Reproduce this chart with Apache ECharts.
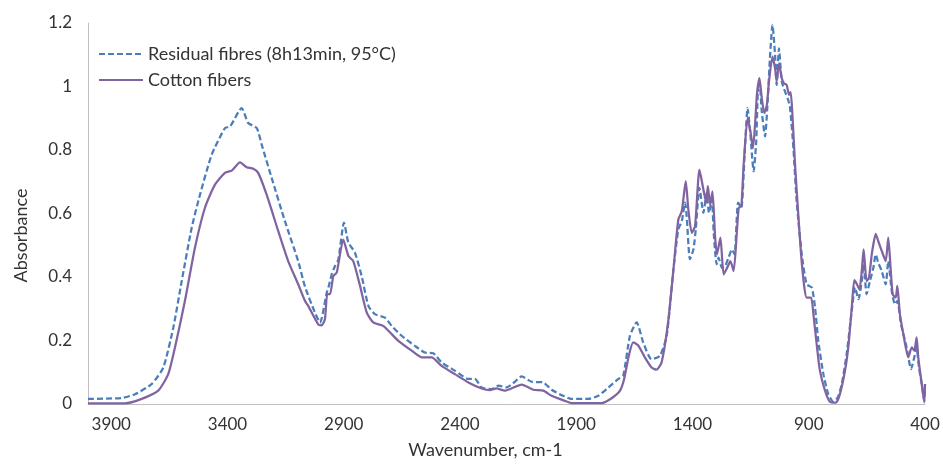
<!DOCTYPE html>
<html>
<head>
<meta charset="utf-8">
<script src="https://cdn.jsdelivr.net/npm/echarts@6/dist/echarts.min.js"></script>
<style>
html,body{margin:0;padding:0;background:#fff;}
#chart{width:943px;height:464px;}
</style>
</head>
<body>
<div id="chart"></div>
<script>
var seriesNames = ["Residual fibres (8h13min, 95°C)", "Cotton fibers"];
var xTickLabels = [3900, 3400, 2900, 2400, 1900, 1400, 900, 400];
var yTickLabels = [0, 0.2, 0.4, 0.6, 0.8, 1, 1.2];

var residualWn = [4000,3855,3798,3726,3676,3633,3597,3554,3518,3468,3411,3389,3339,3311,3274,3253,3210,3153,3096,3067,3024,3002,2973,2966,2952,2938,2923,2899,2880,2852,2823,2794,2766,2723,2694,2651,2594,2551,2515,2479,2422,2364,2336,2307,2264,2235,2199,2164,2135,2092,2042,2006,1963,1920,1848,1805,1762,1719,1698,1669,1640,1612,1576,1540,1511,1482,1461,1446,1432,1425,1411,1396,1386,1370,1353,1339,1329,1317,1308,1296,1288,1273,1259,1245,1230,1219,1204,1190,1176,1163,1151,1137,1126,1119,1112,1102,1088,1076,1067,1056,1045,1038,1028,1016,1002,991,981,966,952,930,909,887,873,859,837,816,794,775,758,737,715,701,686,672,664,651,637,622,612,601,586,569,558,543,529,519,503,479,460,446,436,426,414,403,400];
var residualAbs = [0.016,0.019,0.031,0.063,0.115,0.241,0.387,0.555,0.66,0.785,0.869,0.874,0.932,0.885,0.869,0.817,0.712,0.576,0.45,0.37,0.288,0.257,0.351,0.367,0.408,0.434,0.456,0.571,0.508,0.477,0.403,0.309,0.283,0.272,0.246,0.215,0.183,0.162,0.16,0.131,0.105,0.079,0.079,0.052,0.047,0.058,0.052,0.07,0.087,0.07,0.068,0.045,0.028,0.016,0.016,0.026,0.052,0.079,0.089,0.215,0.257,0.194,0.141,0.152,0.215,0.424,0.55,0.576,0.634,0.592,0.456,0.487,0.55,0.681,0.602,0.665,0.602,0.644,0.53,0.44,0.461,0.429,0.435,0.461,0.487,0.471,0.634,0.618,0.785,0.932,0.848,0.733,0.827,0.984,1.016,0.921,0.843,0.963,1.089,1.194,1.1,1.005,1.12,1.016,0.984,0.963,0.937,0.806,0.639,0.471,0.377,0.367,0.304,0.199,0.094,0.031,0.007,0.021,0.063,0.157,0.293,0.367,0.33,0.387,0.44,0.346,0.387,0.429,0.471,0.445,0.419,0.377,0.45,0.356,0.314,0.325,0.251,0.178,0.11,0.147,0.178,0.115,0.063,0.01,0.063];

var cottonWn = [4000,3841,3769,3698,3655,3626,3583,3540,3497,3454,3411,3382,3346,3318,3289,3268,3232,3182,3139,3096,3067,3053,3010,2995,2981,2971,2959,2945,2930,2902,2880,2859,2830,2801,2773,2730,2694,2665,2608,2565,2522,2479,2422,2364,2307,2271,2243,2207,2179,2135,2085,2042,2006,1949,1920,1791,1748,1712,1694,1674,1655,1634,1605,1576,1555,1533,1505,1482,1461,1446,1429,1418,1403,1389,1370,1353,1341,1334,1324,1314,1303,1295,1280,1266,1251,1237,1223,1208,1201,1190,1180,1163,1151,1140,1131,1123,1112,1102,1091,1080,1071,1056,1045,1038,1028,1016,1006,995,985,978,971,959,947,933,919,909,890,880,866,852,830,809,784,766,744,730,715,704,694,682,672,664,651,641,629,622,612,601,586,569,558,548,539,526,519,508,493,472,457,446,436,429,414,403,400];
var cottonAbs = [0.002,0.002,0.016,0.042,0.094,0.178,0.325,0.492,0.618,0.691,0.728,0.735,0.761,0.746,0.741,0.728,0.66,0.545,0.45,0.377,0.325,0.309,0.251,0.248,0.267,0.346,0.346,0.403,0.414,0.518,0.466,0.45,0.372,0.288,0.257,0.246,0.22,0.199,0.168,0.147,0.147,0.12,0.094,0.068,0.049,0.044,0.049,0.042,0.049,0.061,0.045,0.042,0.026,0.01,0.003,0.003,0.018,0.042,0.079,0.152,0.194,0.185,0.147,0.115,0.108,0.131,0.257,0.424,0.581,0.607,0.702,0.613,0.539,0.56,0.738,0.675,0.634,0.686,0.628,0.67,0.529,0.471,0.524,0.408,0.429,0.45,0.419,0.555,0.618,0.623,0.754,0.901,0.859,0.806,0.88,0.974,1.026,0.963,0.916,0.943,1.016,1.094,1.058,1.016,1.073,1.026,1.01,1.005,0.974,0.982,0.921,0.754,0.618,0.471,0.367,0.335,0.335,0.283,0.189,0.105,0.042,0.007,0.004,0.031,0.105,0.178,0.304,0.39,0.379,0.361,0.419,0.487,0.387,0.398,0.471,0.503,0.536,0.513,0.482,0.45,0.524,0.429,0.346,0.335,0.372,0.283,0.22,0.147,0.178,0.168,0.21,0.147,0.063,0.005,0.063];

function pairs(xs, ys) {
  var out = [];
  for (var i = 0; i < xs.length; i++) out.push([xs[i], ys[i]]);
  return out;
}

var FONT = 'Lato';
var TXT = '#333333';
var chart = echarts.init(document.getElementById('chart'), null, {renderer: 'canvas'});
chart.setOption({
  animation: false,
  backgroundColor: '#ffffff',
  textStyle: {fontFamily: FONT},
  grid: {left: 88, right: 18, top: 23, bottom: 59, containLabel: false},
  legend: {
    orient: 'vertical',
    left: 93,
    top: 40,
    itemWidth: 44,
    itemHeight: 14,
    itemGap: 8,
    itemStyle: {opacity: 0},
    textStyle: {fontFamily: FONT, fontSize: 18, color: TXT, lineHeight: 18},
    data: seriesNames
  },
  xAxis: {
    type: 'value',
    inverse: true,
    min: 400,
    max: 4000,
    interval: 500,
    name: 'Wavenumber, cm-1',
    nameLocation: 'middle',
    nameGap: 37,
    nameTextStyle: {fontFamily: FONT, fontSize: 18, color: TXT, padding: [0, 42, 0, 0]},
    axisLine: {show: true, lineStyle: {color: '#bfbfbf', width: 1}},
    axisTick: {show: false},
    splitLine: {show: false},
    axisLabel: {
      fontFamily: FONT, fontSize: 17, color: TXT, margin: 12,
      formatter: function (v) { return xTickLabels.indexOf(v) >= 0 ? String(v) : ''; }
    }
  },
  yAxis: {
    type: 'value',
    min: 0,
    max: 1.2,
    interval: 0.2,
    name: 'Absorbance',
    nameLocation: 'middle',
    nameRotate: 90,
    nameGap: 58,
    nameTextStyle: {fontFamily: FONT, fontSize: 18, color: TXT, padding: [0, 44, 0, 0]},
    axisLine: {show: true, lineStyle: {color: '#bfbfbf', width: 1}},
    axisTick: {show: false},
    splitLine: {show: false},
    axisLabel: {
      fontFamily: FONT, fontSize: 17, color: TXT, margin: 16,
      formatter: function (v) {
        for (var i = 0; i < yTickLabels.length; i++) {
          if (Math.abs(yTickLabels[i] - v) < 1e-6) return String(yTickLabels[i]);
        }
        return '';
      }
    }
  },
  series: [
    {
      name: seriesNames[0],
      type: 'line',
      data: pairs(residualWn, residualAbs),
      symbol: 'none',
      showSymbol: false,
      smooth: 0.2,
      lineStyle: {color: '#4a7ebb', width: 2.25, type: [6, 3]},
      itemStyle: {color: '#4a7ebb'},
      z: 2
    },
    {
      name: seriesNames[1],
      type: 'line',
      data: pairs(cottonWn, cottonAbs),
      symbol: 'none',
      showSymbol: false,
      smooth: 0.2,
      lineStyle: {color: '#8064a2', width: 2.25, type: 'solid'},
      itemStyle: {color: '#8064a2'},
      z: 3
    }
  ]
});
</script>
</body>
</html>
